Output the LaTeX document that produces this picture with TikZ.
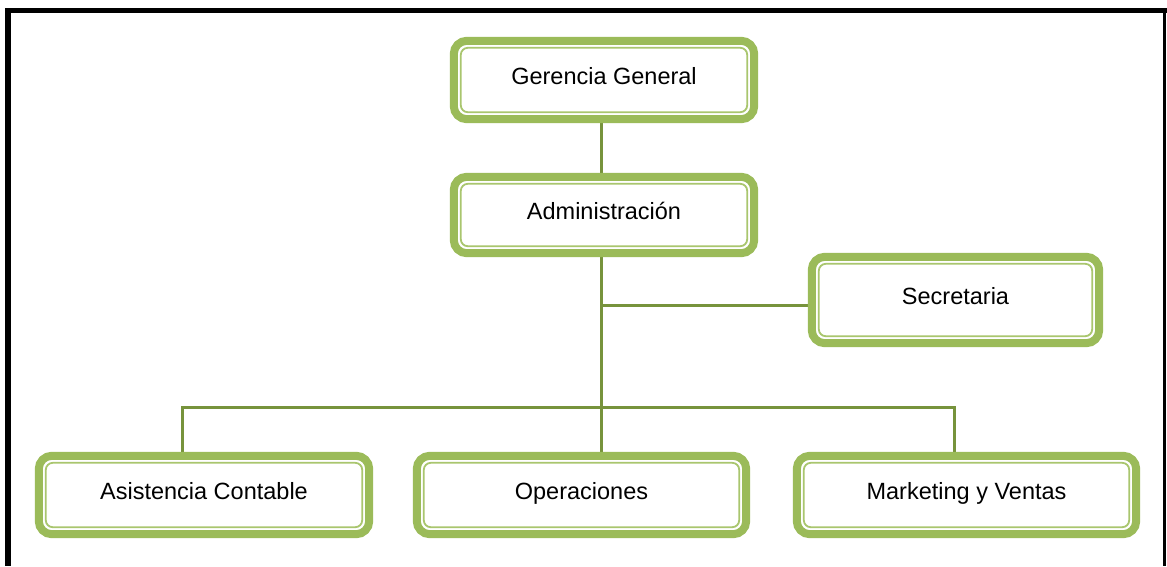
\documentclass[tikz,border=0pt]{standalone}
\usepackage{fontspec}
\setmainfont{Liberation Sans}
\definecolor{bandgreen}{HTML}{9BBB59}
\definecolor{thingreen}{HTML}{A9C66E}
\definecolor{linegreen}{HTML}{77933C}
\tikzset{
  orgbox/.style={draw=none, rectangle, inner sep=0pt, align=center,
    font=\fontsize{23.5}{28}\selectfont, text height=17pt, text depth=9pt},
  band/.style={draw=bandgreen, line width=8pt, rounded corners=13pt, fill=white},
  innerline/.style={draw=thingreen, line width=1.8pt, rounded corners=7pt},
  conn/.style={draw=linegreen, line width=3pt},
}
\newcommand{\orgframe}[1]{%
  \draw[band] ([xshift=4pt,yshift=-4pt]#1.north west) rectangle ([xshift=-4pt,yshift=4pt]#1.south east);
  \draw[innerline] ([xshift=11pt,yshift=-11pt]#1.north west) rectangle ([xshift=-11pt,yshift=11pt]#1.south east);
}
\begin{document}
\begin{tikzpicture}[x=1pt,y=-1pt]
\useasboundingbox (0,0) rectangle (1167,566);
\fill[white] (0,0) rectangle (1167,566);
% outer frame
\fill[black] (5,8) rectangle (11,566);
\fill[black] (5,8) rectangle (1167,13);
\fill[black] (1163,8) rectangle (1166,566);

% nodes
\node[orgbox, minimum width=308pt, minimum height=86pt] (gg) at (604,80) {Gerencia General};
\node[orgbox, minimum width=308pt, minimum height=84pt] (adm) at (604,215) {Administración};
\node[orgbox, minimum width=295pt, minimum height=94pt] (sec) at (955.5,300) {Secretaria};
\node[orgbox, minimum width=338pt, minimum height=86pt] (asis) at (204,495) {Asistencia Contable};
\node[orgbox, minimum width=337pt, minimum height=86pt] (ops) at (581.5,495) {Operaciones};
\node[orgbox, minimum width=347pt, minimum height=86pt] (mkt) at (966.5,495) {Marketing y Ventas};

% connector attach points
\coordinate (ja) at (182,407);
\coordinate (jo) at (601,407);
\coordinate (jm) at (954,407);
\coordinate (js) at (601,305);

% connectors
\draw[conn] (gg.south -| jo) -- (adm.south -| jo);
\draw[conn] (adm.south -| jo) -- (ops.north -| jo);
\draw[conn] (js) -- (js -| sec.west);
\draw[conn] (ja |- asis.north) -- (ja) -- (jm) -- (jm |- mkt.north);

% box frames
\orgframe{gg}
\orgframe{adm}
\orgframe{sec}
\orgframe{asis}
\orgframe{ops}
\orgframe{mkt}

% texts on top
\node[orgbox, minimum width=308pt, minimum height=86pt] at (gg.center) {Gerencia General};
\node[orgbox, minimum width=308pt, minimum height=84pt] at (adm.center) {Administración};
\node[orgbox, minimum width=295pt, minimum height=94pt] at (sec.center) {Secretaria};
\node[orgbox, minimum width=338pt, minimum height=86pt] at (asis.center) {Asistencia Contable};
\node[orgbox, minimum width=337pt, minimum height=86pt] at (ops.center) {Operaciones};
\node[orgbox, minimum width=347pt, minimum height=86pt] at (mkt.center) {Marketing y Ventas};
\end{tikzpicture}
\end{document}
